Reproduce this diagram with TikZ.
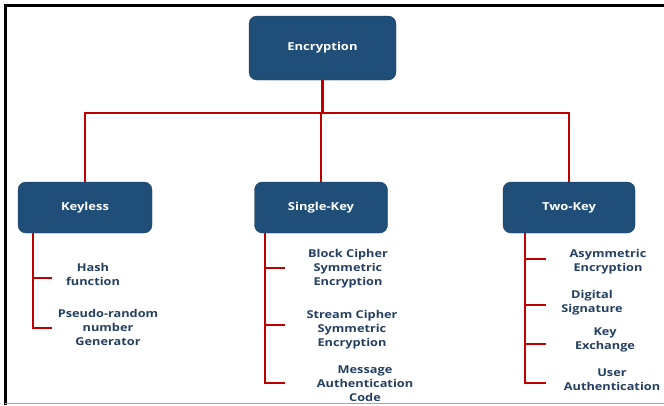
\documentclass[tikz,border=0pt]{standalone}
\usepackage{fontspec}
\setmainfont{Open Sans}
\newfontfamily\widefont[FakeStretch=1.18]{Open Sans}
\definecolor{boxblue}{HTML}{1F4E79}
\definecolor{linkred}{HTML}{C00000}
\definecolor{itemtext}{HTML}{243F60}
\begin{document}
\begin{tikzpicture}[x=1pt,y=-1pt,
  catbox/.style={draw=boxblue!80!black, fill=boxblue, rounded corners=8pt,
    text=white, font=\widefont\bfseries\fontsize{11}{13}\selectfont, inner sep=0pt},
  item/.style={align=center, text=itemtext, inner sep=0pt,
    font=\widefont\bfseries\fontsize{10.8}{14}\selectfont},
  link/.style={draw=linkred, line width=2.4pt}]
  \useasboundingbox (0,0) rectangle (664,405);
  % frame
  \draw[line width=3pt] (5,405) -- (5,5.5) -- (664,5.5);
  \draw[gray!70, line width=1pt] (5,403.5) -- (664,403.5);

  % boxes
  \node[catbox, minimum width=147pt, minimum height=64pt] (enc) at (322.5,48) {Encryption};
  \node[catbox, minimum width=134pt, minimum height=51pt] (keyless) at (85,207.5) {Keyless};
  \node[catbox, minimum width=133pt, minimum height=51pt] (single) at (321,207.5) {Single-Key};
  \node[catbox, minimum width=132pt, minimum height=51pt] (two) at (569,207.5) {Two-Key};

  % top-level bus
  \coordinate (bus) at (322.5,113);
  \draw[link] (enc.south) -- (bus);
  \draw[link] (keyless.north) |- (bus);
  \draw[link] (two.north) |- (bus);
  \draw[link] (single.north) -- (single.north |- bus);

  % item labels
  \node[item] (hash) at (93,274) {Hash\\function};
  \node[item] (prng) at (108,327) {Pseudo-random\\number\\Generator};
  \node[item] (block) at (348,269) {Block Cipher\\Symmetric\\Encryption};
  \node[item] (stream) at (352,330) {Stream Cipher\\Symmetric\\Encryption};
  \node[item] (mac) at (365,384) {Message\\Authentication\\Code};
  \node[item] (asym) at (608,262) {Asymmetric\\Encryption};
  \node[item] (dsig) at (592,303) {Digital\\Signature};
  \node[item] (kex) at (605,340) {Key\\Exchange};
  \node[item] (uauth) at (612,380) {User\\Authentication};

  % keyless branches
  \coordinate (klstem) at (33,233);
  \coordinate (hashend) at (52,278);
  \coordinate (prngend) at (52,328);
  \draw[link] (klstem) |- (hashend);
  \draw[link] (klstem) |- (prngend);

  % single-key branches
  \coordinate (skstem) at (265,233);
  \coordinate (blockend) at (285,268);
  \coordinate (streamend) at (285,325);
  \coordinate (macend) at (285,383);
  \draw[link] (skstem) |- (blockend);
  \draw[link] (skstem) |- (streamend);
  \draw[link] (skstem) |- (macend);

  % two-key branches
  \coordinate (tkstem) at (525,233);
  \coordinate (asymend) at (546,259);
  \coordinate (dsigend) at (546,305);
  \coordinate (kexend) at (546,344);
  \coordinate (uauthend) at (546,383);
  \draw[link] (tkstem) |- (asymend);
  \draw[link] (tkstem) |- (dsigend);
  \draw[link] (tkstem) |- (kexend);
  \draw[link] (tkstem) |- (uauthend);
\end{tikzpicture}
\end{document}
